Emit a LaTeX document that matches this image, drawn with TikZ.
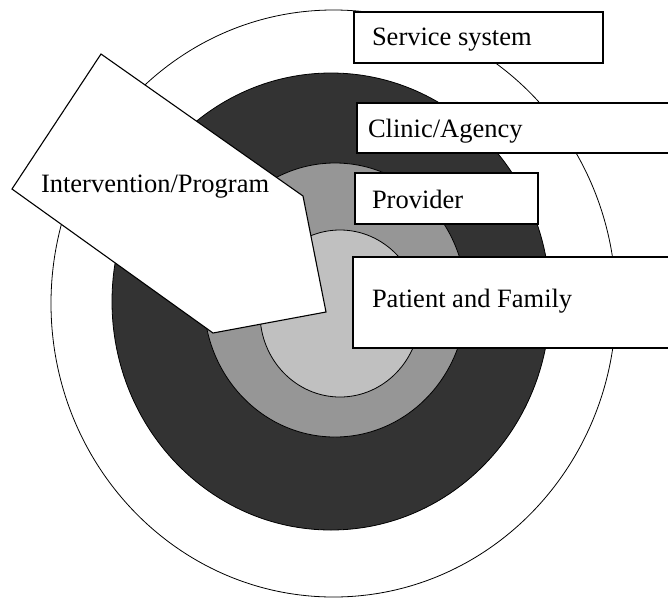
\documentclass[tikz,border=0pt]{standalone}
\usepackage{fontspec}
\setmainfont{Liberation Serif}
\definecolor{ringdark}{RGB}{51,51,51}
\definecolor{ringmid}{RGB}{150,150,150}
\definecolor{ringlight}{RGB}{192,192,192}
\tikzset{
  ring/.style={draw=black, line width=0.8pt},
  labelbox/.style={draw=black, fill=white, line width=1.3pt, rectangle, inner sep=0pt, outer sep=0pt, anchor=north west},
  lbl/.style={anchor=base west, inner sep=0pt, outer sep=0pt, font=\fontsize{26.5}{30}\selectfont}
}
\begin{document}
\begin{tikzpicture}[x=1pt,y=-1pt]
\useasboundingbox (0,0) rectangle (668,600);
\clip (0,0) rectangle (668,600);
% rings
\draw[ring, fill=white] (333.5,303.5) ellipse [x radius=282.5pt, y radius=293.5pt];
\draw[ring, fill=ringdark] (331,301.5) ellipse [x radius=219pt, y radius=228.5pt];
\draw[ring, fill=ringmid] (335,300) ellipse [x radius=131pt, y radius=137pt];
\draw[ring, fill=ringlight] (340,313.5) ellipse [x radius=80pt, y radius=83.5pt];
% level boxes
\node[labelbox, minimum width=249pt, minimum height=51pt] (svc) at (354,12) {};
\node[lbl] (svct) at (372,45) {Service system};
\node[labelbox, minimum width=340pt, minimum height=50pt] (cln) at (357,103) {};
\node[lbl] (clnt) at (368,137) {Clinic/Agency};
\node[labelbox, minimum width=183pt, minimum height=51pt] (prv) at (355,173) {};
\node[lbl] (prvt) at (372,208) {Provider};
\node[labelbox, line width=2pt, minimum width=340pt, minimum height=91pt] (pat) at (353,257) {};
\node[lbl] (patt) at (372,307) {Patient and Family};
% intervention arrow
\coordinate (i1) at (101,54);
\coordinate (i2) at (303,196);
\coordinate (i3) at (326,312);
\coordinate (i4) at (213,333);
\coordinate (i5) at (12,189);
\draw[draw=black, fill=white, line width=1.1pt, line join=miter] (i1) -- (i2) -- (i3) -- (i4) -- (i5) -- cycle;
\node[lbl] (intt) at (41,192) {Intervention/Program};
\end{tikzpicture}
\end{document}
